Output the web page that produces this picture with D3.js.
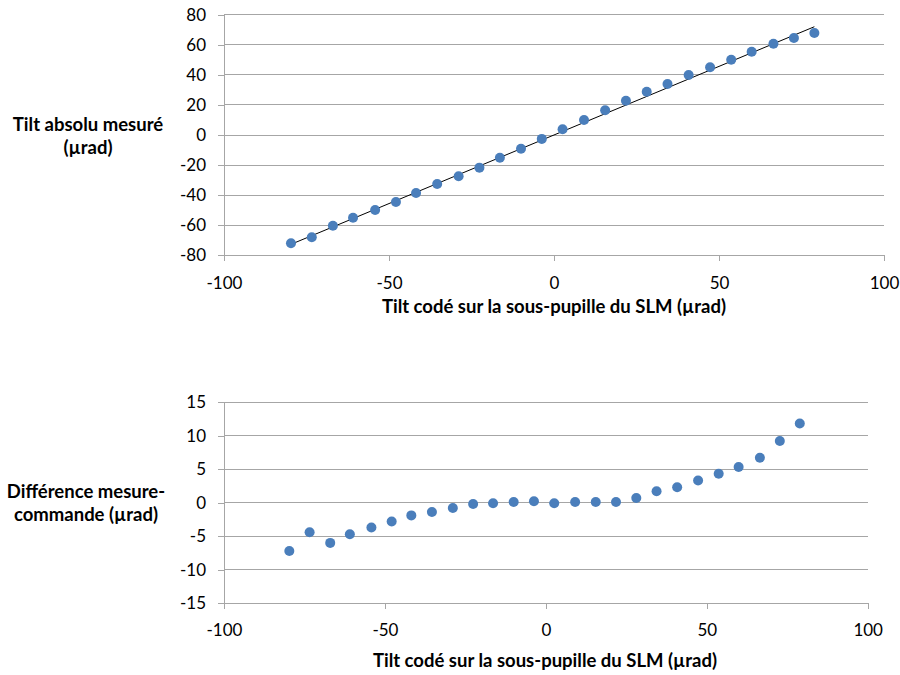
<!DOCTYPE html>
<html><head><meta charset="utf-8">
<script src="https://cdn.jsdelivr.net/npm/d3@7"></script>
<style>
body{margin:0;background:#fff;}
svg text{font-family:Lato,"Open Sans",sans-serif;fill:#000;}
</style></head>
<body><svg id="c" width="900" height="675"></svg>
<script>
// Tilt codé (µrad) — x positions of the measurements
const tiltCode = [-79.7,-73.4,-67.0,-60.9,-54.2,-47.9,-41.8,-35.4,-28.9,-22.6,-16.4,-10.0,-3.7,
                  2.6,9.1,15.5,21.8,28.1,34.4,40.8,47.3,53.7,59.9,66.5,72.7,78.9];
// Tilt absolu mesuré (µrad)
const tiltMesure = [-72.0,-68.0,-60.3,-55.0,-49.9,-44.5,-38.6,-32.6,-27.4,-21.7,-15.1,-9.1,-2.6,
                    3.8,10.0,16.4,22.8,28.8,33.9,39.9,45.0,50.1,55.4,60.7,64.5,67.8];
// Différence mesure-commande (µrad)
const difference = [-7.2,-4.4,-6.0,-4.7,-3.7,-2.8,-1.9,-1.4,-0.8,-0.2,-0.1,0.1,0.2,
                    -0.1,0.1,0.1,0.1,0.7,1.7,2.3,3.3,4.3,5.3,6.7,9.2,11.8];
// Trend line endpoints (top chart)
const trendX = [-79.7,78.9];
const trendY = [-72.7,72.0];

const xTicks = [-100,-50,0,50,100];
const yTicksTop = [-80,-60,-40,-20,0,20,40,60,80];
const yTicksBot = [-15,-10,-5,0,5,10,15];

const svg = d3.select("#c");
const gridCol = "#a6a6a6";
const dotCol = "#4a7ebb";
const fmt = d => String(d);

function panel(o){
  const x = d3.scaleLinear().domain([-100,100]).range([o.left,o.right]);
  const y = d3.scaleLinear().domain(o.ydom).range([o.bottom,o.top]);
  const g = svg.append("g");
  g.selectAll("line.grid").data(o.yTicks.filter(v=>v!==o.ydom[0])).enter().append("line")
    .attr("x1",o.left).attr("x2",o.right).attr("y1",d=>y(d)).attr("y2",d=>y(d))
    .attr("stroke",gridCol).attr("stroke-width",1).attr("shape-rendering","crispEdges");
  const ya = g.append("g").attr("transform",`translate(${o.left},0)`)
    .call(d3.axisLeft(y).tickValues(o.yTicks).tickSize(6).tickPadding(12).tickFormat(fmt));
  ya.select(".domain").attr("stroke",gridCol).attr("shape-rendering","crispEdges");
  ya.selectAll(".tick line").attr("stroke",gridCol).attr("shape-rendering","crispEdges");
  ya.selectAll("text").style("font-size","17px").attr("fill","#000").style("font-family","Lato, sans-serif");
  const xa = g.append("g").attr("transform",`translate(0,${o.bottom})`)
    .call(d3.axisBottom(x).tickValues(xTicks).tickSize(6).tickPadding(o.xpad).tickFormat(fmt));
  xa.select(".domain").attr("stroke",gridCol).attr("shape-rendering","crispEdges");
  xa.selectAll(".tick line").attr("stroke",gridCol).attr("shape-rendering","crispEdges");
  xa.selectAll("text").style("font-size","17px").attr("fill","#000").style("font-family","Lato, sans-serif");
  g.append("text").attr("x",o.xtx).attr("y",o.xty).attr("text-anchor","middle")
    .style("font-size","18.5px").style("font-weight","bold").text("Tilt codé sur la sous-pupille du SLM (µrad)");
  const t = g.append("text").attr("text-anchor","middle").style("font-size","18.5px").style("font-weight","bold");
  o.ytitle.forEach((s,i)=>t.append("tspan").attr("x",o.ytx).attr("y",o.yty+i*23).text(s));
  return {x,y,g};
}

const topP = panel({left:224,right:884,top:14.7,bottom:255.3,ydom:[-80,80],yTicks:yTicksTop,xpad:16,
  xtx:554,xty:313,ytx:88,yty:131,ytitle:["Tilt absolu mesuré","(µrad)"]});
topP.g.append("line")
  .attr("x1",topP.x(trendX[0])).attr("y1",topP.y(trendY[0]))
  .attr("x2",topP.x(trendX[1])).attr("y2",topP.y(trendY[1]))
  .attr("stroke","#000").attr("stroke-width",1);
topP.g.selectAll("circle").data(tiltCode).enter().append("circle")
  .attr("cx",d=>topP.x(d)).attr("cy",(d,i)=>topP.y(tiltMesure[i])).attr("r",5).attr("fill",dotCol);

const botP = panel({left:224,right:867.7,top:402,bottom:603.3,ydom:[-15,15],yTicks:yTicksBot,xpad:15,
  xtx:545,xty:667,ytx:86,yty:498,ytitle:["Différence mesure-","commande (µrad)"]});
botP.g.selectAll("circle").data(tiltCode).enter().append("circle")
  .attr("cx",d=>botP.x(d)).attr("cy",(d,i)=>botP.y(difference[i])).attr("r",5).attr("fill",dotCol);
</script></body></html>
